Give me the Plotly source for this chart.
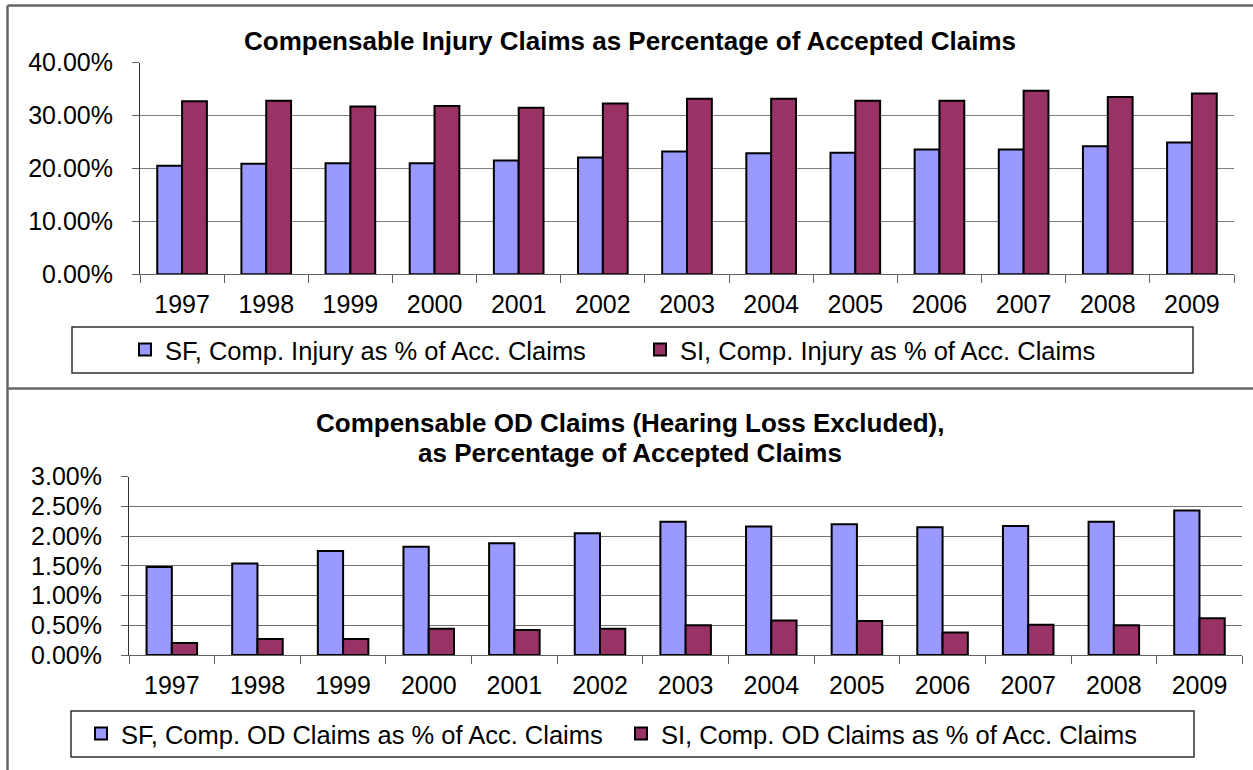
import plotly.graph_objects as go

years = ['1997', '1998', '1999', '2000', '2001', '2002', '2003',
         '2004', '2005', '2006', '2007', '2008', '2009']
sf_injury = [20.5, 20.9, 21.0, 21.0, 21.5, 22.1, 23.2, 22.9, 23.0, 23.6, 23.6, 24.2, 24.9]
si_injury = [32.7, 32.8, 31.7, 31.8, 31.5, 32.3, 33.2, 33.2, 32.8, 32.8, 34.7, 33.5, 34.2]
sf_od = [1.48, 1.54, 1.75, 1.82, 1.88, 2.05, 2.24, 2.16, 2.20, 2.15, 2.17, 2.24, 2.43]
si_od = [0.20, 0.27, 0.27, 0.44, 0.42, 0.44, 0.50, 0.58, 0.57, 0.38, 0.51, 0.50, 0.62]

name_sf_inj = 'SF, Comp. Injury as % of Acc. Claims'
name_si_inj = 'SI, Comp. Injury as % of Acc. Claims'
name_sf_od = 'SF, Comp. OD Claims as % of Acc. Claims'
name_si_od = 'SI, Comp. OD Claims as % of Acc. Claims'
title_top = 'Compensable Injury Claims as Percentage of Accepted Claims'
title_bot_1 = 'Compensable OD Claims (Hearing Loss Excluded),'
title_bot_2 = 'as Percentage of Accepted Claims'

W, H = 1253, 770
FONT = 'Liberation Sans, Arial, sans-serif'
C_SF = '#9999FF'
C_SI = '#993366'


def px(x):
    return x / W


def py(y):
    return 1 - y / H


fig = go.Figure()
bar_line = dict(color='black', width=2)
fig.add_trace(go.Bar(x=years, y=sf_injury, name=name_sf_inj, marker=dict(color=C_SF, line=bar_line),
                     xaxis='x', yaxis='y', legend='legend'))
fig.add_trace(go.Bar(x=years, y=si_injury, name=name_si_inj, marker=dict(color=C_SI, line=bar_line),
                     xaxis='x', yaxis='y', legend='legend'))
fig.add_trace(go.Bar(x=years, y=sf_od, name=name_sf_od, marker=dict(color=C_SF, line=bar_line),
                     xaxis='x2', yaxis='y2', legend='legend2'))
fig.add_trace(go.Bar(x=years, y=si_od, name=name_si_od, marker=dict(color=C_SI, line=bar_line),
                     xaxis='x2', yaxis='y2', legend='legend2'))

tickfont = dict(family=FONT, size=25, color='black')
xcommon = dict(type='category', showgrid=False, showline=True, linecolor='#606060', linewidth=1,
               ticks='outside', ticklen=8, tickcolor='#606060', tickson='boundaries',
               tickfont=tickfont, ticklabelstandoff=8, fixedrange=True, automargin=False)
ycommon = dict(showgrid=True, gridwidth=1, zeroline=False, showline=True,
               linecolor='#303030', linewidth=1, ticks='outside', ticklen=7, tickcolor='#606060',
               tickfont=tickfont, ticksuffix='%', tickformat='.2f', ticklabelstandoff=14,
               fixedrange=True, automargin=False)

legfont = dict(family=FONT, size=25.5, color='black')
fig.update_layout(
    width=W, height=H, autosize=False,
    margin=dict(l=0, r=0, t=0, b=0, autoexpand=False),
    paper_bgcolor='white', plot_bgcolor='white',
    barmode='group', bargap=0.41, bargroupgap=0,
    hovermode=False,
    xaxis=dict(domain=[px(140), px(1234)], anchor='y', **xcommon),
    yaxis=dict(domain=[py(274.3), py(62.7)], anchor='x', range=[0, 40], dtick=10,
               gridcolor='#808080', **ycommon),
    xaxis2=dict(domain=[px(129), px(1242.3)], anchor='y2', **xcommon),
    yaxis2=dict(domain=[py(655), py(476.7)], anchor='x2', range=[0, 3], dtick=0.5,
                gridcolor='#707070', **ycommon),
    legend=dict(orientation='h', x=px(125), xanchor='left', y=py(350), yanchor='middle',
                bgcolor='rgba(0,0,0,0)', borderwidth=0, font=legfont,
                entrywidth=470, entrywidthmode='pixels', traceorder='normal'),
    legend2=dict(orientation='h', x=px(81), xanchor='left', y=py(734), yanchor='middle',
                 bgcolor='rgba(0,0,0,0)', borderwidth=0, font=legfont,
                 entrywidth=495, entrywidthmode='pixels', traceorder='normal'),
    showlegend=True,
)

tfont = dict(family=FONT, size=26, color='black', weight='bold')
fig.add_annotation(text=title_top, xref='paper', yref='paper', x=px(630), y=py(41),
                   xanchor='center', yanchor='middle', showarrow=False, font=tfont)
fig.add_annotation(text=title_bot_1, xref='paper', yref='paper', x=px(630), y=py(423),
                   xanchor='center', yanchor='middle', showarrow=False, font=tfont)
fig.add_annotation(text=title_bot_2, xref='paper', yref='paper', x=px(630), y=py(453),
                   xanchor='center', yanchor='middle', showarrow=False, font=tfont)

border = dict(color='#666666', width=2.5)
shapes = [
    dict(type='line', xref='paper', yref='paper', x0=px(7.5), x1=px(7.5), y0=py(5.5), y1=0, line=border),
    dict(type='line', xref='paper', yref='paper', x0=px(7.5), x1=1, y0=py(5.5), y1=py(5.5), line=border),
    dict(type='line', xref='paper', yref='paper', x0=px(7.5), x1=1, y0=py(388.5), y1=py(388.5), line=border),
    dict(type='rect', xref='paper', yref='paper', x0=px(72), x1=px(1193), y0=py(373), y1=py(327),
         line=dict(color='#303030', width=1.5), layer='below'),
    dict(type='rect', xref='paper', yref='paper', x0=px(71), x1=px(1194), y0=py(757), y1=py(711),
         line=dict(color='#303030', width=1.5), layer='below'),
]
fig.update_layout(shapes=shapes)

fig.write_html('out.html', config={'displayModeBar': False},
               post_script="document.body.style.margin='0';document.body.style.overflow='hidden';")
